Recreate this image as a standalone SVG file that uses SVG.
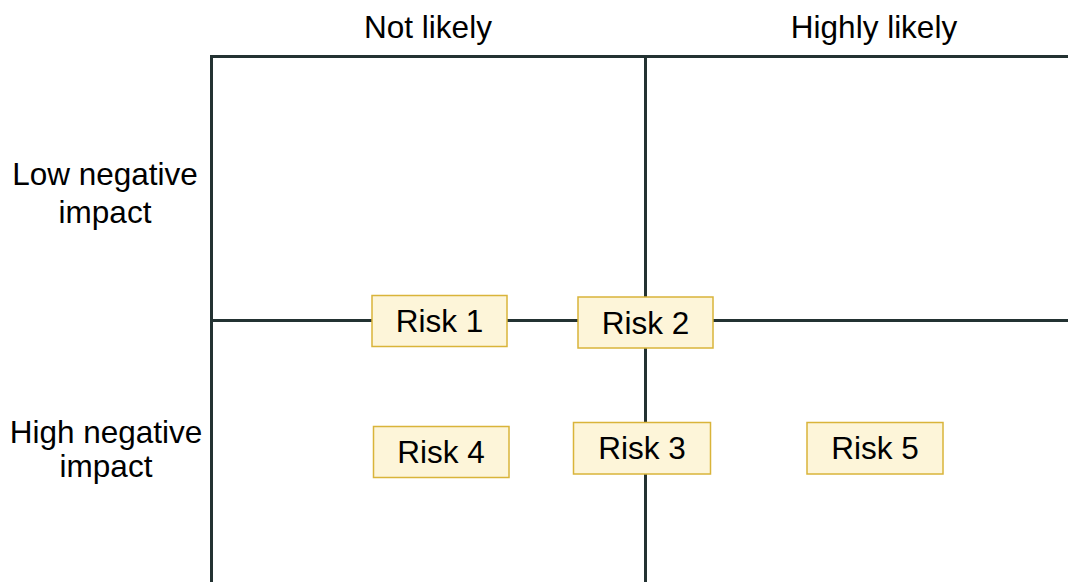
<svg xmlns="http://www.w3.org/2000/svg" width="1068" height="582" viewBox="0 0 1068 582">
  <style>
    .grid { stroke: #233232; stroke-width: 3; fill: none; stroke-linecap: square; }
    .lbl { font-family: "Liberation Sans", Arial, sans-serif; font-size: 31.5px; fill: #000; text-anchor: middle; }
    .box { fill: #fdf5d9; stroke: #d9b43a; stroke-width: 1.5; }
    .rt { font-family: "Liberation Sans", Arial, sans-serif; font-size: 31.5px; fill: #000; text-anchor: middle; dominant-baseline: central; }
  </style>
  <rect width="1068" height="582" fill="#ffffff"/>
  <g id="connectors">
    <path class="grid" d="M211.5,582 L211.5,56.5 L1068,56.5"/>
    <line class="grid" x1="645.5" y1="56.5" x2="645.5" y2="582"/>
    <line class="grid" x1="211.5" y1="320.5" x2="1068" y2="320.5"/>
  </g>
  <g id="axis-labels">
    <text id="not-likely" class="lbl" x="428" y="38">Not likely</text>
    <text id="highly-likely" class="lbl" x="874" y="38">Highly likely</text>
    <text id="low-impact" class="lbl" x="105"><tspan x="105" y="185">Low negative</tspan><tspan x="105" y="223">impact</tspan></text>
    <text id="high-impact" class="lbl" x="106"><tspan x="106" y="443">High negative</tspan><tspan x="106" y="477">impact</tspan></text>
  </g>
  <g id="risk1"><rect class="box" x="372" y="295.5" width="135" height="51"/><text class="rt" x="439.5" y="321">Risk 1</text></g>
  <g id="risk2"><rect class="box" x="578" y="297" width="135" height="51"/><text class="rt" x="645.5" y="322.5">Risk 2</text></g>
  <g id="risk3"><rect class="box" x="573.5" y="422.5" width="137" height="51.5"/><text class="rt" x="642" y="448">Risk 3</text></g>
  <g id="risk4"><rect class="box" x="373.5" y="426.5" width="135.5" height="51"/><text class="rt" x="441" y="452">Risk 4</text></g>
  <g id="risk5"><rect class="box" x="807" y="422.5" width="136" height="51.5"/><text class="rt" x="875" y="448">Risk 5</text></g>
</svg>
